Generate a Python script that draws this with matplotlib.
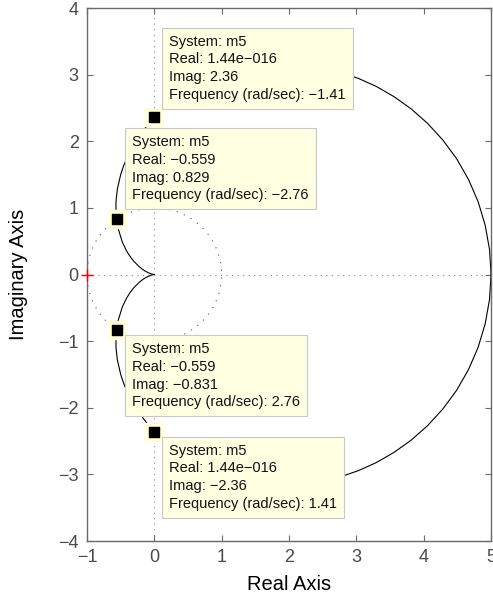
import matplotlib.pyplot as plt
from matplotlib.patches import Circle

plt.rcParams['font.family'] = ['Liberation Sans', 'DejaVu Sans']

# Nyquist curve of system m5, positive-frequency branch
real_pos = [5.0, 4.978, 4.913, 4.808, 4.665, 4.489, 4.284, 4.057, 3.813, 3.557,
            3.294, 3.029, 2.766, 2.508, 2.257, 2.016, 1.787, 1.570, 1.367, 1.177,
            1.0, 0.686, 0.422, 0.2025, 0.0, -0.123, -0.240, -0.332, -0.404, -0.459,
            -0.5, -0.550, -0.570, -0.570, -0.561, -0.538, -0.476, -0.412, -0.354,
            -0.305, -0.2297, -0.177, -0.1403, -0.0933, -0.04924, -0.02457, -0.01103,
            -0.004, 0.0]
imag_pos = [0.0, -0.374, -0.741, -1.094, -1.428, -1.738, -2.019, -2.269, -2.487, -2.671,
            -2.824, -2.944, -3.036, -3.100, -3.139, -3.156, -3.154, -3.135, -3.101, -3.056,
            -3.0, -2.866, -2.712, -2.548, -2.357, -2.215, -2.055, -1.903, -1.759, -1.625,
            -1.5, -1.278, -1.091, -0.934, -0.827, -0.692, -0.488, -0.353, -0.262,
            -0.199, -0.1216, -0.0792, -0.0543, -0.0286, -0.01066, -0.0037, -0.001105,
            -0.00024, 0.0]

# data tips
tip_real = [1.44e-16, -0.559, -0.559, 1.44e-16]
tip_imag = [2.36, 0.829, -0.831, -2.36]
tip_freq = [-1.41, -2.76, 2.76, 1.41]
tip_real_txt = ['1.44e\u2212016', '\u22120.559', '\u22120.559', '1.44e\u2212016']
tip_text_pos = [(0.223, 3.60), (-0.327, 2.087), (-0.327, -1.02), (0.223, -2.54)]

x_ticks = [-1, 0, 1, 2, 3, 4, 5]
y_ticks = [-4, -3, -2, -1, 0, 1, 2, 3, 4]

fig = plt.figure(figsize=(4.93, 6.03), dpi=100)
ax = fig.add_axes([0.1765, 0.1028, 0.8195, 0.8839])

frame_gray = '#6a6a6a'
dot_gray = '#8c8c8c'

ax.axhline(0, color=dot_gray, linestyle=(0, (1, 4)), linewidth=0.8, zorder=1)
ax.axvline(0, color=dot_gray, linestyle=(0, (1, 4)), linewidth=0.8, zorder=1)
ax.add_patch(Circle((0, 0), 1, fill=False, edgecolor='#555555',
                    linestyle=(0, (1, 6)), linewidth=0.8, zorder=1))

ax.plot(real_pos, imag_pos, color='black', linewidth=0.8, zorder=2)
ax.plot(real_pos, [-v for v in imag_pos], color='black', linewidth=0.8, zorder=2)
ax.plot([-1], [0], marker='+', color='red', markersize=9, mew=1.0, zorder=8,
        clip_on=False)

ax.scatter(tip_real, tip_imag, marker='s', s=150, color='#FFFFD8', zorder=5)
ax.scatter(tip_real, tip_imag, marker='s', s=55, color='black', zorder=6)

for (tx, ty), rt, im, fr in zip(tip_text_pos, tip_real_txt, tip_imag, tip_freq):
    im_txt = f'{im:.3g}'.replace('-', '\u2212')
    fr_txt = f'{fr:.3g}'.replace('-', '\u2212')
    s = f'System: m5\nReal: {rt}\nImag: {im_txt}\nFrequency (rad/sec): {fr_txt}'
    ax.text(tx, ty, s, ha='left', va='top', fontsize=10.5, linespacing=1.33,
            color='#111111', zorder=7,
            bbox=dict(boxstyle='square,pad=0.48', fc='#FFFFE1', ec='#C8C8C8', lw=0.8))

ax.set_xlim(-1, 5)
ax.set_ylim(-4, 4)
ax.set_xticks(x_ticks)
ax.set_yticks(y_ticks)
ax.set_xticklabels([str(v).replace('-', '\u2212') for v in x_ticks])
ax.set_yticklabels([str(v).replace('-', '\u2212') for v in y_ticks])
ax.tick_params(direction='in', length=4, width=0.8, top=True, right=True,
               color=frame_gray, labelcolor='#4a4a4a', labelsize=13, pad=6)
for sp in ax.spines.values():
    sp.set_color(frame_gray)
    sp.set_linewidth(1.0)

ax.set_xlabel('Real Axis', fontsize=14.5)
ax.set_ylabel('Imaginary Axis', fontsize=14.5)
ax.xaxis.set_label_coords(0.5, -0.064)
ax.yaxis.set_label_coords(-0.145, 0.5)

fig.savefig('out.png', dpi=100)
